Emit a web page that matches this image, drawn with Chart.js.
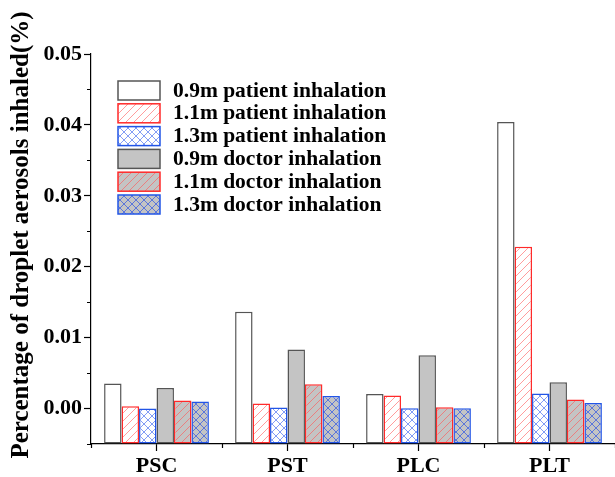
<!DOCTYPE html>
<html lang="en">
<head>
<meta charset="UTF-8">
<title>Droplet aerosols inhaled</title>
<style>
    body { margin: 0; background: #fff; }
    .chart-container { width: 615px; height: 477px; }
</style>
</head>
<body>
<div class="chart-container"><canvas id="bar-chart"></canvas></div>
<script src="https://cdn.jsdelivr.net/npm/chart.js"></script>
<script>
const categories = ['PSC', 'PST', 'PLC', 'PLT'];
const seriesLabels = [
    '0.9m patient inhalation',
    '1.1m patient inhalation',
    '1.3m patient inhalation',
    '0.9m doctor inhalation',
    '1.1m doctor inhalation',
    '1.3m doctor inhalation'
];
const patient09 = [0.00353, 0.01365, 0.00206, 0.0404];
const patient11 = [0.00032, 0.0007, 0.00184, 0.02283];
const patient13 = [0.0, 0.00014, 0.00004, 0.00212];
const doctor09 = [0.0029, 0.00833, 0.00753, 0.00371];
const doctor11 = [0.00113, 0.00343, 0.00018, 0.00127];
const doctor13 = [0.00099, 0.00178, 0.00004, 0.00079];
const yMin = -0.005;
const yMax = 0.05;
const yStep = 0.005;
const yTitle = 'Percentage of droplet aerosols inhaled(%)';

const serif = "'Liberation Serif', 'Times New Roman', serif";
const GRAY = '#c4c4c4';
const RED = '#ff2a2a';
const BLUE = '#2255e6';

// small tiles for hatch fills
function makePattern(bg, line, cross) {
    const c = document.createElement('canvas');
    c.width = 8; c.height = 8;
    const g = c.getContext('2d');
    g.fillStyle = bg;
    g.fillRect(0, 0, 8, 8);
    g.strokeStyle = line;
    g.lineWidth = 0.8;
    g.beginPath();
    g.moveTo(-1, 9); g.lineTo(9, -1);
    g.moveTo(-1, 1); g.lineTo(1, -1);
    g.moveTo(7, 9); g.lineTo(9, 7);
    if (cross) {
        g.moveTo(-1, -1); g.lineTo(9, 9);
        g.moveTo(7, -1); g.lineTo(9, 1);
        g.moveTo(-1, 7); g.lineTo(1, 9);
    }
    g.stroke();
    return g.createPattern(c, 'repeat');
}

const fills = [
    '#ffffff',
    makePattern('#ffffff', 'rgba(255,90,90,0.75)', false),
    makePattern('#ffffff', 'rgba(60,100,240,0.8)', true),
    GRAY,
    makePattern(GRAY, 'rgba(255,90,90,0.8)', false),
    makePattern(GRAY, 'rgba(40,80,230,0.85)', true)
];
const borders = ['#555', RED, BLUE, '#555', RED, BLUE];
const values = [patient09, patient11, patient13, doctor09, doctor11, doctor13];

function isMajor(v) {
    return v >= -1e-9 && Math.abs(Math.round(v * 100) - v * 100) < 1e-6;
}

const axisTicks = {
    id: 'axisTicks',
    afterDraw(chart) {
        const { ctx, scales: { x, y } } = chart;
        ctx.save();
        ctx.strokeStyle = '#000';
        ctx.lineWidth = 1.2;
        ctx.beginPath();
        for (let i = 0; i <= categories.length; i++) {
            const px = Math.round(x.getPixelForValue(i - 0.5)) + 0.5;
            ctx.moveTo(px, x.top);
            ctx.lineTo(px, x.top + 4);
        }
        for (let v = yMin; v <= yMax + 1e-9; v += yStep) {
            if (isMajor(v)) continue;
            const py = Math.round(y.getPixelForValue(v)) + 0.5;
            ctx.moveTo(y.right, py);
            ctx.lineTo(y.right - 4, py);
        }
        ctx.stroke();
        // y axis title, placed like the original
        ctx.translate(22, 235);
        ctx.rotate(-Math.PI / 2);
        ctx.font = 'bold 25px ' + serif;
        ctx.fillStyle = '#000';
        ctx.textAlign = 'center';
        ctx.textBaseline = 'middle';
        ctx.fillText(yTitle, 0, 0);
        ctx.restore();
    }
};

const boxLegend = {
    id: 'boxLegend',
    afterDraw(chart) {
        const { ctx, chartArea } = chart;
        const x0 = chartArea.left + 27;
        const y0 = chartArea.top + 27;
        ctx.save();
        ctx.font = 'bold 21.5px ' + serif;
        ctx.textBaseline = 'middle';
        chart.data.datasets.forEach((ds, i) => {
            const top = y0 + i * 22.8;
            ctx.fillStyle = ds.backgroundColor;
            ctx.fillRect(x0, top, 42, 19);
            ctx.strokeStyle = ds.borderColor;
            ctx.lineWidth = 1.5;
            ctx.strokeRect(x0, top, 42, 19);
            ctx.fillStyle = '#000';
            ctx.fillText(ds.label, x0 + 55, top + 10);
        });
        ctx.restore();
    }
};

Chart.defaults.color = '#000';

new Chart(document.getElementById('bar-chart'), {
    type: 'bar',
    data: {
        labels: categories,
        datasets: seriesLabels.map((label, i) => ({
            label: label,
            data: values[i],
            backgroundColor: fills[i],
            borderColor: borders[i],
            borderWidth: 1.5,
            borderSkipped: false,
            base: yMin
        }))
    },
    options: {
        responsive: true,
        maintainAspectRatio: false,
        animation: false,
        layout: { padding: { top: 54, right: 0, left: 0, bottom: 0 } },
        datasets: {
            bar: { categoryPercentage: 0.8, barPercentage: 1.0 }
        },
        plugins: {
            legend: { display: false },
            tooltip: { enabled: false }
        },
        scales: {
            x: {
                afterFit(scale) { scale.height = 33; },
                border: { color: '#000', width: 1.2 },
                grid: { drawOnChartArea: false, offset: false, tickLength: 7, tickColor: '#000', tickWidth: 1.2 },
                ticks: { font: { family: serif, size: 22, weight: 'bold' }, padding: 2 }
            },
            y: {
                min: yMin,
                max: yMax,
                afterFit(scale) { scale.width = 91; },
                border: { color: '#000', width: 1.2 },
                grid: {
                    drawOnChartArea: false,
                    tickLength: 7,
                    tickWidth: 1.2,
                    tickColor: (c) => isMajor(c.tick.value) ? '#000' : 'rgba(0,0,0,0)'
                },
                ticks: {
                    stepSize: yStep,
                    autoSkip: false,
                    padding: 2,
                    font: { family: serif, size: 22, weight: 'bold' },
                    callback: (v) => isMajor(v) ? v.toFixed(2) : ''
                }
            }
        }
    },
    plugins: [axisTicks, boxLegend]
});
</script>
</body>
</html>
